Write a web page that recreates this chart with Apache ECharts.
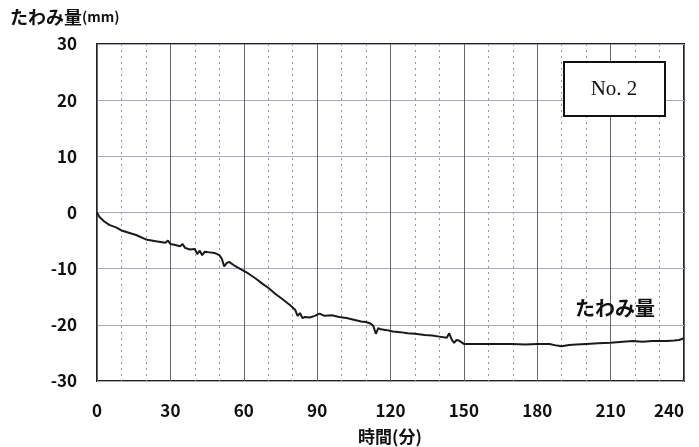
<!DOCTYPE html>
<html>
<head>
<meta charset="utf-8">
<script src="https://cdn.jsdelivr.net/npm/echarts@6/dist/echarts.min.js"></script>
<style>
  html, body { margin: 0; padding: 0; background: #fff; }
  #chart { width: 699px; height: 447px; }
</style>
</head>
<body>
<div id="chart"></div>
<script>
// 経過時間(分)
var time = [0, 1, 3, 5, 8, 10, 13, 16, 20, 24, 28, 29, 30, 32, 34, 35, 36, 38, 40, 41,
  42, 43, 44, 46, 48, 50, 51, 52, 53, 54, 56, 58, 60, 62, 65, 68, 70, 73, 76, 79,
  81, 82, 83, 84, 85, 87, 89, 91, 93, 96, 99, 102, 105, 108, 110, 112, 113, 114, 115, 116,
  118, 121, 124, 127, 130, 134, 137, 140, 143, 144, 145, 146, 147, 148, 150, 152, 155, 160, 165, 170,
  175, 180, 185, 188, 190, 193, 196, 200, 205, 210, 215, 219, 223, 227, 230, 233, 236, 238, 240];
// たわみ量(mm)
var deflection = [0, -0.8, -1.6, -2.2, -2.7, -3.2, -3.6, -4.0, -4.8, -5.1, -5.4, -5.0, -5.6, -5.8, -6.0, -5.6, -6.3, -6.6, -6.5, -7.4,
  -6.8, -7.6, -7.0, -7.1, -7.2, -7.6, -8.2, -9.6, -9.0, -8.8, -9.4, -9.9, -10.4, -10.9, -11.8, -12.8, -13.4, -14.5, -15.5, -16.5,
  -17.3, -18.4, -17.9, -18.8, -18.6, -18.7, -18.4, -18.0, -18.4, -18.3, -18.6, -18.8, -19.1, -19.4, -19.5, -19.8, -20.2, -21.6, -20.6, -20.8,
  -20.9, -21.2, -21.3, -21.5, -21.6, -21.8, -21.9, -22.1, -22.3, -21.5, -22.6, -23.2, -22.7, -22.8, -23.4, -23.4, -23.4, -23.4, -23.4, -23.4,
  -23.5, -23.4, -23.4, -23.7, -23.8, -23.6, -23.5, -23.4, -23.3, -23.2, -23.0, -22.9, -23.0, -22.9, -22.9, -22.9, -22.8, -22.7, -22.4];

var xTicks = [0, 30, 60, 90, 120, 150, 180, 210, 240];
var yTicks = [-30, -20, -10, 0, 10, 20, 30];

var font = '"Noto Sans CJK JP", sans-serif';

var chart = echarts.init(document.getElementById("chart"));

var points = [];
for (var i = 0; i < time.length; i++) {
  points.push([time[i], deflection[i]]);
}

var option = {
  animation: false,
  backgroundColor: "#fff",
  grid: {
    left: 97, right: 15, top: 44, bottom: 66,
    show: true, borderColor: "#222", borderWidth: 2
  },
  xAxis: {
    type: "value",
    min: xTicks[0], max: xTicks[xTicks.length - 1], interval: 30,
    axisLine: { show: false },
    axisTick: { show: false },
    axisLabel: {
      margin: 21, color: "#111", fontSize: 17, fontWeight: "bold", fontFamily: font,
      alignMaxLabel: "right"
    },
    splitLine: { show: true, lineStyle: { color: "#666", width: 1 } },
    minorTick: { show: false, splitNumber: 3 },
    minorSplitLine: { show: true, lineStyle: { color: "#999", width: 1, type: [2, 4] } }
  },
  yAxis: {
    type: "value",
    min: yTicks[0], max: yTicks[yTicks.length - 1], interval: 10,
    axisLine: { show: false },
    axisTick: { show: false },
    axisLabel: { margin: 20, color: "#111", fontSize: 17, fontWeight: "bold", fontFamily: font },
    splitLine: { show: true, lineStyle: { color: "#aaa8c0", width: 1 } }
  },
  series: [
    {
      name: "たわみ量",
      type: "line",
      data: points,
      showSymbol: false,
      lineStyle: { color: "#1a1a1a", width: 2 }
    }
  ],
  graphic: [
    {
      type: "text", left: 10, top: 8,
      style: {
        text: "{a|たわみ量}{b|(mm)}",
        rich: {
          a: { fontSize: 18, fontWeight: "bold", fontFamily: font, fill: "#111" },
          b: { fontSize: 14, fontWeight: "bold", fontFamily: font, fill: "#111" }
        }
      }
    },
    {
      type: "text", x: 390, y: 437,
      style: {
        text: "時間(分)", fontSize: 17, fontWeight: "bold", fontFamily: font,
        fill: "#111", align: "center", verticalAlign: "middle"
      }
    },
    {
      type: "rect",
      shape: { x: 564, y: 62, width: 101, height: 54 },
      style: { fill: "#fff", stroke: "#111", lineWidth: 2 },
      z: 100
    },
    {
      type: "text", x: 614, y: 89, z: 101,
      style: {
        text: "No. 2", fontSize: 21, fontFamily: '"Liberation Serif", serif',
        fill: "#111", align: "center", verticalAlign: "middle"
      }
    },
    {
      type: "text", x: 615, y: 308, z: 101,
      style: {
        text: "たわみ量", fontSize: 20, fontWeight: "bold", fontFamily: font,
        fill: "#111", align: "center", verticalAlign: "middle"
      }
    }
  ]
};

chart.setOption(option);
</script>
</body>
</html>
